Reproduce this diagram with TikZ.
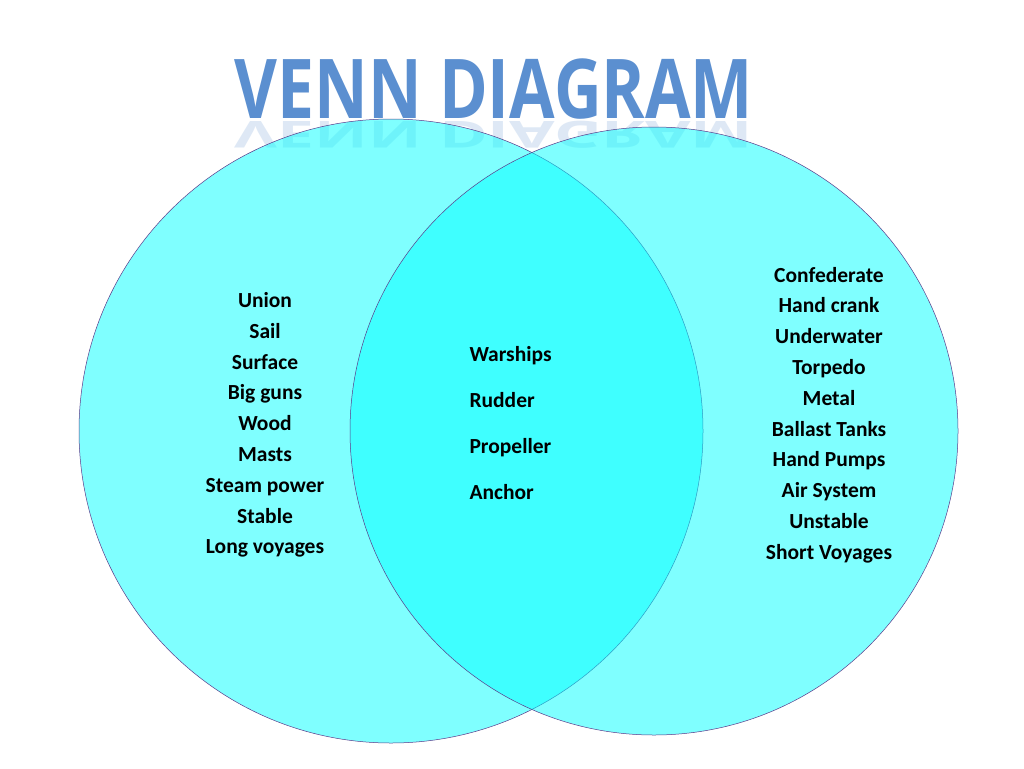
\documentclass[tikz,border=0pt]{standalone}
\usepackage{fontspec}
\setmainfont{Carlito}
\newfontfamily\titlefont{Open Sans}
\begin{document}
\begin{tikzpicture}[x=1pt,y=-1pt,
  circ/.style={fill=venncyan,fill opacity=0.5,draw=vennline,line width=0.5pt},
  lst/.style={font=\bfseries\fontsize{21.5}{30.8}\selectfont,align=center,text=black},
  ttl/.style={font=\titlefont\bfseries\fontsize{66}{70}\selectfont,text=titleblue,anchor=base,yscale=1.25,inner sep=0pt}]
\definecolor{venncyan}{HTML}{00FFFF}
\definecolor{vennline}{HTML}{5A3A8A}
\definecolor{titleblue}{HTML}{5B8FD0}
\useasboundingbox (0,0) rectangle (1024,768);
\fill[white] (0,0) rectangle (1024,768);
\node[ttl,opacity=0.2,yscale=-0.45] (refl) at (494,121) {VENN DIAGRAM};
\path[circ] (391,431) circle (312);
\path[circ] (654,431) circle (304);
\node[ttl] (title) at (494,118) {VENN DIAGRAM};
\node[lst] (left) at (265,425) {Union\\Sail\\Surface\\Big guns\\Wood\\Masts\\Steam power\\Stable\\Long voyages};
\node[lst,align=left,anchor=west,font=\bfseries\fontsize{21.5}{46}\selectfont] (mid) at (466,423) {Warships\\Rudder\\Propeller\\Anchor};
\node[lst] (right) at (829,415) {Confederate\\Hand crank\\Underwater\\Torpedo\\Metal\\Ballast Tanks\\Hand Pumps\\Air System\\Unstable\\Short Voyages};
\end{tikzpicture}
\end{document}
